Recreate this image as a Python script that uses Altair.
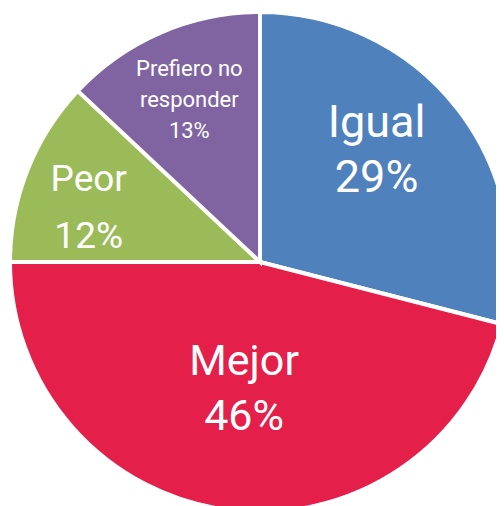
import altair as alt
import pandas as pd

categories = ["Igual", "Mejor", "Peor", "Prefiero no responder"]
values = [29, 46, 12, 13]
label_names = ["Igual", "Mejor", "Peor", "Prefiero no\nresponder"]
colors = ["#4F81BD", "#E31F4A", "#9BBB59", "#8064A2"]

df = pd.DataFrame({
    "cat": categories,
    "value": values,
    "order": list(range(len(categories))),
    "label": [f"{n}\n{v}%" for n, v in zip(label_names, values)],
})

base = alt.Chart(df)

arc = base.mark_arc(outerRadius=250, stroke="white", strokeWidth=4).encode(
    theta=alt.Theta("value:Q", stack=True),
    color=alt.Color("cat:N", scale=alt.Scale(domain=categories, range=colors), legend=None),
    order=alt.Order("order:Q"),
)

# per-label text styling: radius, dx, dy, font size, line height
label_style = {
    "Igual": dict(radius=164, dx=-13, dy=-38, fontSize=45, lineHeight=55),
    "Mejor": dict(radius=127, dx=0, dy=-26, fontSize=43, lineHeight=55),
    "Peor": dict(radius=181, dx=-3, dy=-15, fontSize=37, lineHeight=57),
    "Prefiero no responder": dict(radius=178, dx=0, dy=-30, fontSize=22, lineHeight=31),
}

layers = [arc]
for c in categories:
    st = label_style[c]
    t = base.mark_text(
        font="Roboto", color="white", lineBreak="\n", align="center", baseline="middle",
        **st,
    ).encode(
        theta=alt.Theta("value:Q", stack=True),
        order=alt.Order("order:Q"),
        text=alt.condition(f"datum.cat == '{c}'", alt.Text("label:N"), alt.value("")),
    )
    layers.append(t)

chart = alt.layer(*layers).properties(
    width=472,
    height=488,
    padding={"left": 16, "top": 10, "right": 0, "bottom": 0},
    autosize=alt.AutoSizeParams(type="none"),
).configure_view(stroke=None)

chart.save("out.html", embed_options={"renderer": "svg", "actions": False})
